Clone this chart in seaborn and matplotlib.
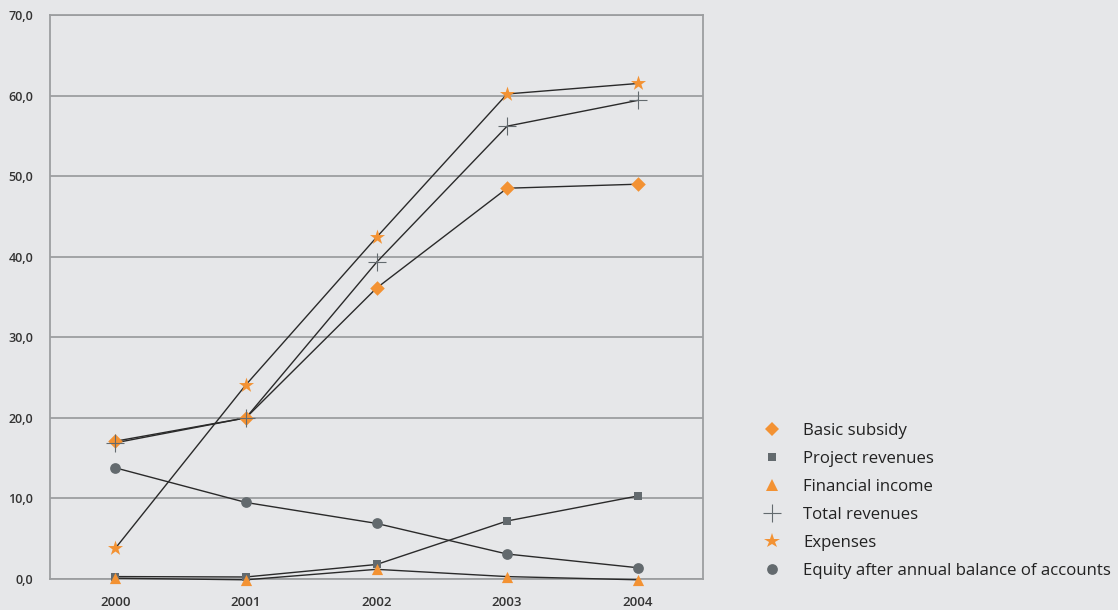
import numpy as np
import pandas as pd
import matplotlib
matplotlib.use("Agg")
import matplotlib.pyplot as plt
from matplotlib.lines import Line2D
import seaborn as sns

years = ["2000", "2001", "2002", "2003", "2004"]
basic_subsidy = [17.1, 20.0, 36.1, 48.5, 49.0]
project_revenues = [0.3, 0.25, 1.8, 7.2, 10.3]
financial_income = [0.1, -0.1, 1.2, 0.3, -0.1]
total_revenues = [16.9, 20.0, 39.3, 56.2, 59.4]
expenses = [3.8, 24.1, 42.4, 60.2, 61.5]
equity = [13.8, 9.5, 6.9, 3.1, 1.4]

labels = ["Basic subsidy", "Project revenues", "Financial income",
          "Total revenues", "Expenses", "Equity after annual balance of accounts"]
series = [basic_subsidy, project_revenues, financial_income,
          total_revenues, expenses, equity]

ORANGE = "#f39233"
GREY = "#636a6e"
BG = "#e6e7e9"
GRID = "#9c9ea0"
LINE = "#2a2a2a"

styles = [
    dict(marker="D", s=55, color=ORANGE, lw=0),
    dict(marker="s", s=40, color=GREY, lw=0),
    dict(marker="^", s=65, color=ORANGE, lw=0),
    dict(marker="+", s=150, color=GREY, lw=0.8),
    dict(marker="*", s=130, color=ORANGE, lw=0),
    dict(marker="o", s=60, color=GREY, lw=0),
]

sns.set_theme(style="white")
plt.rcParams["font.family"] = ["Open Sans", "DejaVu Sans"]

fig = plt.figure(figsize=(11.18, 6.10), dpi=100, facecolor=BG)
ax = fig.add_axes([50 / 1118, 1 - 579 / 610, 653 / 1118, 564 / 610])
ax.set_facecolor(BG)

xs = np.arange(len(years))
for vals in series:
    df = pd.DataFrame({"x": xs, "y": vals})
    sns.lineplot(data=df, x="x", y="y", ax=ax, color=LINE, lw=1.0,
                 sort=False, estimator=None, zorder=3, clip_on=False)
for vals, st in zip(series, styles):
    df = pd.DataFrame({"x": xs, "y": vals})
    sns.scatterplot(data=df, x="x", y="y", ax=ax, marker=st["marker"],
                    s=st["s"], color=st["color"], linewidth=st["lw"],
                    edgecolor=st["color"] if st["marker"] != "+" else None,
                    zorder=4, legend=False, clip_on=False)

ax.set_xlim(-0.5, 4.5)
ax.set_ylim(0, 70)
ax.set_xticks(xs)
ax.set_xticklabels(years)
yt = np.arange(0, 71, 10)
ax.set_yticks(yt)
ax.set_yticklabels([f"{v:.1f}".replace(".", ",") for v in yt])
ax.tick_params(axis="both", length=0, colors="#333333")
ax.tick_params(axis="y", pad=12, labelsize=9)
ax.tick_params(axis="x", pad=12, labelsize=9.5)
for lab in ax.get_xticklabels() + ax.get_yticklabels():
    lab.set_fontweight("semibold")
ax.set_xlabel("")
ax.set_ylabel("")
ax.yaxis.grid(True, color=GRID, lw=1.3)
ax.set_axisbelow(True)
for side in ["left", "right", "top", "bottom"]:
    ax.spines[side].set_visible(True)
    ax.spines[side].set_color(GRID)
    ax.spines[side].set_linewidth(1.3)

handles = []
for st in styles:
    handles.append(Line2D([], [], linestyle="none", marker=st["marker"],
                          markersize=np.sqrt(st["s"]),
                          markerfacecolor=st["color"],
                          markeredgecolor=st["color"],
                          markeredgewidth=st["lw"] if st["marker"] == "+" else 0))
fig.legend(handles, labels, loc="upper left", bbox_to_anchor=(756 / 1118, 1 - 416 / 610),
           frameon=False, fontsize=12.1, labelspacing=0.72, handletextpad=1.3,
           handlelength=1.1, borderaxespad=0, labelcolor="#222222")

fig.savefig("out.png", dpi=100, facecolor=BG)
